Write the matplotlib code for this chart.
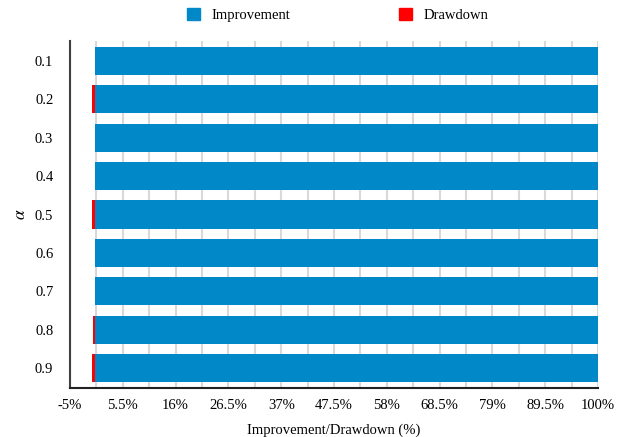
import matplotlib
matplotlib.use("Agg")
import matplotlib.pyplot as plt
import numpy as np
from matplotlib.patches import Patch

alphas = ["0.1", "0.2", "0.3", "0.4", "0.5", "0.6", "0.7", "0.8", "0.9"]
improvement = [100, 100, 100, 100, 100, 100, 100, 100, 100]
drawdown = [0.0, -0.6, 0.0, 0.0, -0.6, 0.0, 0.0, -0.45, -0.6]
xticks = [-5, 5.5, 16, 26.5, 37, 47.5, 58, 68.5, 79, 89.5, 100]

plt.rcParams['font.family'] = ['Liberation Serif', 'DejaVu Serif']
plt.rcParams['mathtext.fontset'] = 'stix'

fig = plt.figure(figsize=(6.28, 4.37), dpi=100)
ax = fig.add_axes([70/628, 1-388/437, 528/628, 347/437])

blue = '#0088C8'
red = '#FF0000'
y = np.arange(len(alphas))
ax.barh(y, improvement, height=0.73, color=blue, zorder=3)
ax.barh(y, drawdown, height=0.73, color=red, zorder=3)

ax.set_xlim(-5, 100)
ax.set_ylim(len(alphas) - 0.48, -0.52)
ax.set_yticks(y)
ax.set_yticklabels(alphas, fontsize=10.5)
ax.set_xticks(xticks)
ax.set_xticklabels([f"{v:g}%" for v in xticks], fontsize=10.5)
ax.set_xticks(np.arange(-5, 100.01, 5.25), minor=True)
ax.tick_params(axis='both', which='both', length=0)
ax.tick_params(axis='x', pad=8)
ax.tick_params(axis='y', pad=12)
ax.grid(axis='x', which='both', color='#d9d9d9', linewidth=1.5, zorder=0)
ax.set_axisbelow(True)

for s in ['top', 'right']:
    ax.spines[s].set_visible(False)
ax.spines['left'].set_color('#404040')
ax.spines['left'].set_linewidth(1.5)
ax.spines['bottom'].set_color('#222222')
ax.spines['bottom'].set_linewidth(1.5)

ax.set_xlabel("Improvement/Drawdown (%)", fontsize=10.5, labelpad=8)
ax.set_ylabel(r"$\alpha$", fontsize=12.5, labelpad=4)

handles = [Patch(color=blue, label='Improvement'), Patch(color=red, label='Drawdown')]
fig.legend(handles=handles, loc='center', bbox_to_anchor=(337.5/628, 1-15/437), ncol=2,
           frameon=False, fontsize=10.5, handlelength=0.9, handleheight=0.9,
           columnspacing=7.5, handletextpad=0.75)

fig.savefig("out.png", dpi=100)
